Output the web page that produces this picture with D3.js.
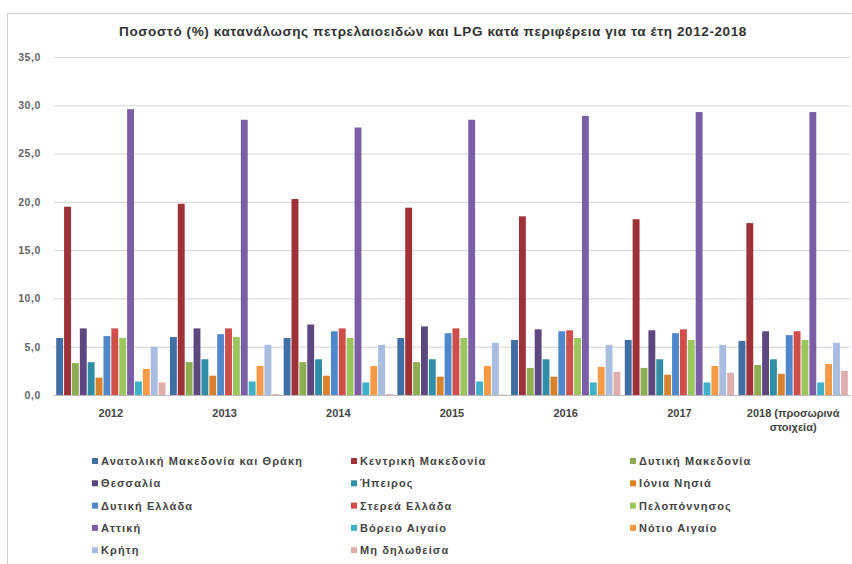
<!DOCTYPE html>
<html><head><meta charset="utf-8">
<script src="https://cdn.jsdelivr.net/npm/d3@7"></script>
<style>body{margin:0;background:#fff}svg{display:block}</style>
</head><body><svg id="c" width="852" height="564"></svg>
<script>
const title = "Ποσοστό (%) κατανάλωσης πετρελαιοειδών και LPG κατά περιφέρεια για τα έτη 2012-2018";
const categories = ["2012","2013","2014","2015","2016","2017","2018 (προσωρινά στοιχεία)"];
const seriesNames = ["Ανατολική Μακεδονία και Θράκη","Κεντρική Μακεδονία","Δυτική Μακεδονία","Θεσσαλία","Ήπειρος","Ιόνια Νησιά","Δυτική Ελλάδα","Στερεά Ελλάδα","Πελοπόννησος","Αττική","Βόρειο Αιγαίο","Νότιο Αιγαίο","Κρήτη","Μη δηλωθείσα"];
const colors = ["#3F6FA5","#9E3236","#8DAE50","#5C4780","#2F8EA5","#D9822E","#4F89CC","#CF4E4A","#9CC55E","#7C5EA6","#3FB1C8","#F79A45","#A8BDE0","#E0AEAC"];
// values per series, one per category (2012..2018)
const anatMak   = [5.9, 6.0, 5.9, 5.9, 5.7, 5.7, 5.6];
const kentMak   = [19.5, 19.8, 20.3, 19.4, 18.5, 18.2, 17.8];
const dytMak    = [3.3, 3.4, 3.4, 3.4, 2.8, 2.8, 3.1];
const thessalia = [6.9, 6.9, 7.3, 7.1, 6.8, 6.7, 6.6];
const ipeiros   = [3.4, 3.7, 3.7, 3.7, 3.7, 3.7, 3.7];
const ionia     = [1.8, 2.0, 2.0, 1.9, 1.9, 2.1, 2.2];
const dytEll    = [6.1, 6.3, 6.6, 6.4, 6.6, 6.4, 6.2];
const sterea    = [6.9, 6.9, 6.9, 6.9, 6.7, 6.8, 6.6];
const pelop     = [5.9, 6.0, 5.9, 5.9, 5.9, 5.7, 5.7];
const attiki    = [29.6, 28.5, 27.7, 28.5, 28.9, 29.3, 29.3];
const vorAig    = [1.4, 1.4, 1.3, 1.4, 1.3, 1.3, 1.3];
const notAig    = [2.7, 3.0, 3.0, 3.0, 2.9, 3.0, 3.2];
const kriti     = [5.0, 5.2, 5.2, 5.4, 5.2, 5.2, 5.4];
const miDil     = [1.3, 0.1, 0.1, 0.05, 2.4, 2.3, 2.5];
const seriesValues = [anatMak,kentMak,dytMak,thessalia,ipeiros,ionia,dytEll,sterea,pelop,attiki,vorAig,notAig,kriti,miDil];
const yTicks = [0,5,10,15,20,25,30,35];

const svg = d3.select("#c");
const font = "'Liberation Sans', Arial, sans-serif";
// frame
svg.append("rect").attr("x",7.5).attr("y",13.5).attr("width",860).attr("height",600)
  .attr("fill","none").attr("stroke","#d0d0d0");

const pLeft = 54, pRight = 850, pTop = 57, pBottom = 395;
const y = d3.scaleLinear().domain([0,35]).range([pBottom, pTop]);
const x0 = d3.scaleBand().domain(categories).range([pLeft, pRight]).paddingInner(0.03).paddingOuter(0.015);
const x1 = d3.scaleBand().domain(d3.range(seriesNames.length)).range([0, x0.bandwidth()]).padding(0);

// gridlines
svg.append("g").selectAll("line").data(yTicks.slice(1)).join("line")
  .attr("x1",pLeft).attr("x2",pRight).attr("y1",d=>y(d)+0.5).attr("y2",d=>y(d)+0.5)
  .attr("stroke","#d4d4d4").attr("stroke-width",1);

// y axis labels
const yAxis = d3.axisLeft(y).tickValues(yTicks).tickSize(0).tickPadding(13)
  .tickFormat(d=>d3.format(".1f")(d).replace(".",","));
const ga = svg.append("g").attr("transform",`translate(${pLeft},0)`).call(yAxis);
ga.select(".domain").remove();
ga.selectAll("text").attr("font-family",font).attr("font-size",10.5).attr("font-weight","bold")
  .attr("letter-spacing",0.6).attr("fill","#666");

// bars
const groups = svg.append("g").selectAll("g").data(categories).join("g")
  .attr("transform",d=>`translate(${x0(d)},0)`);
groups.selectAll("rect").data((c,ci)=>seriesValues.map((s,si)=>({si, v:s[ci]}))).join("rect")
  .attr("x",d=>x1(d.si)+0.5).attr("width",x1.bandwidth()-1)
  .attr("y",d=>y(d.v)).attr("height",d=>y(0)-y(d.v))
  .attr("fill",d=>colors[d.si]);

// x axis
svg.append("line").attr("x1",pLeft).attr("x2",pRight).attr("y1",pBottom+0.5).attr("y2",pBottom+0.5).attr("stroke","#bbb");
const xl = svg.append("g");
categories.forEach(c=>{
  const cx = x0(c)+x0.bandwidth()/2;
  const t = xl.append("text").attr("x",cx).attr("y",417).attr("text-anchor","middle")
    .attr("font-family",font).attr("font-size",11).attr("font-weight","bold").attr("fill","#444");
  if (c.indexOf("(")>0) {
    t.append("tspan").attr("x",cx).attr("dy",0).text("2018 (προσωρινά");
    t.append("tspan").attr("x",cx).attr("dy",14).text("στοιχεία)");
  } else t.text(c);
});

// title
svg.append("text").attr("x",433).attr("y",36).attr("text-anchor","middle")
  .attr("font-family",font).attr("font-size",13.5).attr("font-weight","bold").attr("letter-spacing",0.6)
  .attr("fill","#333").text(title);

// legend
const colX = [92, 351, 630];
const rowY0 = 465, rowDy = 22.3;
const lg = svg.append("g").selectAll("g").data(seriesNames).join("g")
  .attr("transform",(d,i)=>`translate(${colX[i%3]},${rowY0 + Math.floor(i/3)*rowDy})`);
lg.append("rect").attr("x",0).attr("y",-7).attr("width",6).attr("height",6).attr("fill",(d,i)=>colors[i]);
lg.append("text").attr("x",9).attr("y",0).attr("font-family",font).attr("font-size",11)
  .attr("font-weight","bold").attr("letter-spacing",1.1).attr("fill","#444").text(d=>d);
</script></body></html>
